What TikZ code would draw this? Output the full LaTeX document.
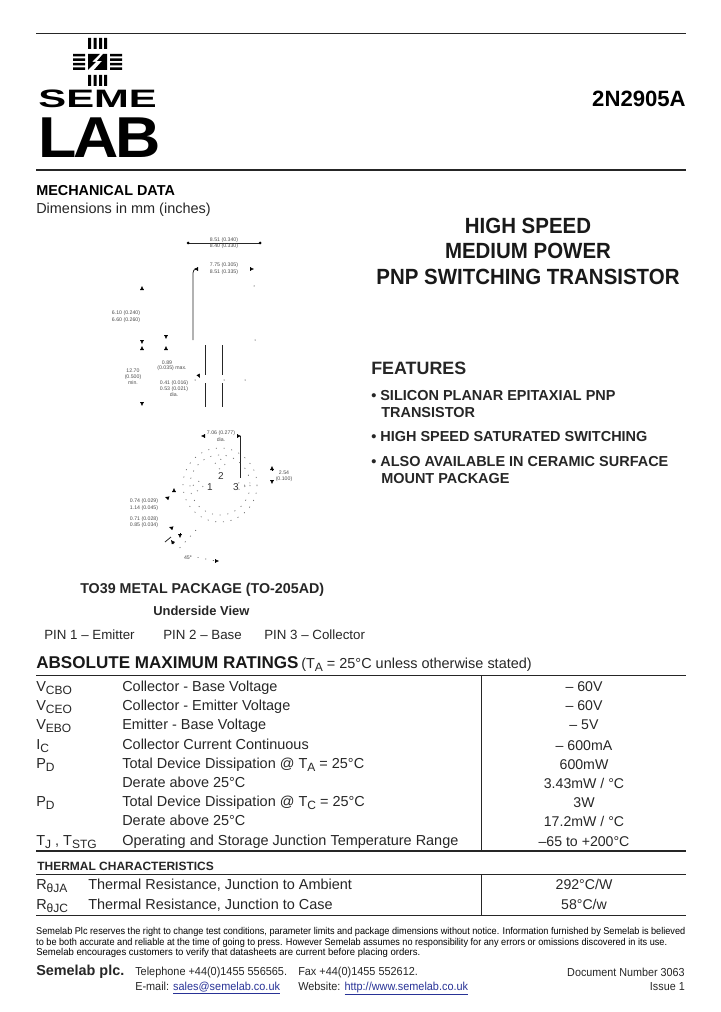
\documentclass[tikz,border=0pt]{standalone}
\usepackage{fontspec}
\setmainfont{Liberation Sans}
\usetikzlibrary{arrows.meta}
\newcommand{\fsz}[1]{\fontsize{#1}{#1}\selectfont}
\newcommand{\subs}[1]{\raisebox{-0.45ex}{\fontsize{9}{9}\selectfont #1}}
\tikzstyle{txt} = [anchor=base west, inner sep=0pt, font=\fsz{10.85}, text=black!85]
\tikzstyle{txtr} = [anchor=base east, inner sep=0pt, font=\fsz{10.85}, text=black!85]
\tikzstyle{val} = [anchor=base, inner sep=0pt, font=\fsz{10.6}, text=black!85]
\tikzstyle{headb} = [anchor=base west, inner sep=0pt, font=\fsz{10.8}\bfseries]
\tikzstyle{title} = [anchor=base, inner sep=0pt, font=\fsz{16.5}\bfseries, text=black!90, xscale=0.93]
\tikzstyle{feat} = [anchor=base west, inner sep=0pt, font=\fsz{10.85}\bfseries, text=black!85]
\tikzstyle{small} = [anchor=base west, inner sep=0pt, font=\fsz{7.4}, text=black]
\tikzstyle{foot} = [anchor=base west, inner sep=0pt, font=\fsz{8.7}, text=black!85, xscale=0.94]
\tikzstyle{footr} = [anchor=base east, inner sep=0pt, font=\fsz{8.7}, text=black!85, xscale=0.93]
\tikzstyle{tiny} = [anchor=base, inner sep=0pt, font=\fsz{3.9}, text=black!70]
\tikzstyle{rule} = [line width=0.5pt, black!85]
\tikzstyle{hrule} = [line width=1.1pt, black!85]
\tikzstyle{dim} = [line width=0.6pt, black!85]
\tikzstyle{tip} = [-{Latex[length=3pt,width=3pt]}, line width=0.3pt]
\tikzstyle{dots} = [line width=0.5pt, black!60, dash pattern=on 0.8pt off 5pt]
\definecolor{linkblue}{RGB}{40,50,150}
\begin{document}
\begin{tikzpicture}[x=0.75pt, y=-0.75pt]
  \useasboundingbox (0,0) rectangle (720,1012);

  % rules
  \draw[rule] (36,33) -- (686,33);
  \draw[hrule] (36,170) -- (686,170);
  \draw[rule] (36,675) -- (686,675);
  \draw[hrule] (36,851) -- (686,851);
  \draw[rule] (36,874) -- (686,874);
  \draw[rule] (36,915) -- (686,915);
  \draw[rule] (481,675) -- (481,851);
  \draw[rule] (481,874) -- (481,915);

  % logo
  \fill (88,38) rectangle (91,49) (93.5,38) rectangle (96.5,49) (99,38) rectangle (102,49) (104,38) rectangle (107,49);
  \fill (88,75) rectangle (91,86) (93.5,75) rectangle (96.5,86) (99,75) rectangle (102,86) (104,75) rectangle (107,86);
  \fill (73,54) rectangle (85,56.5) (73,58.5) rectangle (85,61) (73,63) rectangle (85,65.5) (73,67.5) rectangle (85,70);
  \fill (110,54) rectangle (122,56.5) (110,58.5) rectangle (122,61) (110,63) rectangle (122,65.5) (110,67.5) rectangle (122,70);
  \fill (88,54) -- (100,54) -- (92,62) -- (96,62) -- (88,70) -- cycle;
  \fill (107,54) -- (103,54) -- (97,61) -- (102,61) -- (94,70) -- (107,70) -- cycle;
  \node[anchor=base west, inner sep=0pt, font=\fsz{18}\bfseries, xscale=1.74, yscale=1.05] (seme) at (38,108) {SEME};
  \node[anchor=base west, inner sep=0pt, font=\fsz{42}\bfseries, xscale=1.12, yscale=1.03] (lab) at (38,158) {L\kern-2pt A\kern-2pt B};

  % header
  \node[anchor=base east, inner sep=0pt, font=\fsz{16.6}\bfseries] (part) at (686,107) {2N2905A};
  \node[headb] (mech) at (36,196) {MECHANICAL DATA};
  \node[txt] (dimnote) at (36,214) {Dimensions in mm (inches)};
  \node[title] (t1) at (528,234) {HIGH SPEED};
  \node[title] (t2) at (528,259) {MEDIUM POWER};
  \node[title] (t3) at (528,285) {PNP SWITCHING TRANSISTOR};

  % features
  \node[anchor=base west, inner sep=0pt, font=\fsz{13.4}\bfseries, text=black!85] (feathead) at (371,374) {FEATURES};
  \node[feat] (f1) at (371,400) {• SILICON PLANAR EPITAXIAL PNP};
  \node[feat] (f1b) at (381,417) {TRANSISTOR};
  \node[feat] (f2) at (371,441) {• HIGH SPEED SATURATED SWITCHING};
  \node[feat] (f3) at (371,466) {• ALSO AVAILABLE IN CERAMIC SURFACE};
  \node[feat] (f3b) at (381,483) {MOUNT PACKAGE};

  % side view
  \draw[dim] (188,243) -- (260,243);
  \fill (188,243) circle (1.5) (260,243) circle (1.5);
  \draw[dim] (193,340) -- (193,273) to[out=90,in=180] (196,269);
  \draw[dim] (205.5,345) -- (205.5,375) (205.5,383) -- (205.5,407);
  \draw[dim] (222,345) -- (222,375) (222,383) -- (222,407);
  \draw[tip] (197,269) -- (194,269);
  \draw[tip] (251,269) -- (254,269);
  \draw[tip] (142,289) -- (142,286);
  \draw[tip] (166,336) -- (166,339);
  \draw[tip] (142,341) -- (142,344);
  \draw[tip] (142,349) -- (142,346);
  \draw[tip] (166,349) -- (166,346);
  \draw[tip] (142,403) -- (142,406);
  \draw[tip] (198,374) -- (200,378);
  \fill (254,286) circle (0.5) (255,340) circle (0.5) (224,380) circle (0.5) (245,380) circle (0.5) (195,380) circle (0.5);
  \node[tiny] (d1) at (224,242) {8.51 (0.340)};
  \node[tiny] (d2) at (224,248) {8.40 (0.330)};
  \node[tiny] (d3) at (224,267) {7.75 (0.305)};
  \node[tiny] (d4) at (224,274) {8.51 (0.335)};
  \node[tiny] (d5) at (126,314) {6.10 (0.240)};
  \node[tiny] (d6) at (126,321) {6.60 (0.260)};
  \node[tiny] (d7) at (133,372) {12.70};
  \node[tiny] (d8) at (133,378) {(0.500)};
  \node[tiny] (d9) at (133,384) {min.};
  \node[tiny] (d10) at (167,364) {0.89};
  \node[tiny] (d11) at (172,369) {(0.035) max.};
  \node[tiny] (d12) at (174,384) {0.41 (0.016)};
  \node[tiny] (d13) at (174,390) {0.53 (0.021)};
  \node[tiny] (d14) at (174,396) {dia.};

  % underside view
  \draw[dim] (240.5,436) -- (240.5,478);
  \draw[tip] (204,436) -- (201,436);
  \draw[tip] (239,436) -- (241,436);
  \draw[tip] (174,491) -- (174,488);
  \draw[tip] (168,498) -- (165,497);
  \draw[tip] (172,528) -- (169,527);
  \draw[tip] (180,533) -- (180,538);
  \draw[tip] (174,544) -- (171,540);
  \draw[dim] (165,542) -- (171,537);
  \draw[tip] (216,561) -- (219,561);
  \draw[tip] (272,470) -- (272,466);
  \draw[tip] (272,480) -- (272,484);
  \draw[dots] (220,485) circle (37);
  \draw[dots] (220,485) circle (30);
  \draw[dots] (198,486) circle (5);
  \draw[dots] (220,464) circle (5);
  \draw[dots] (241,486) circle (4);
  \draw[dots] (196,530) -- (176,552);
  \draw[dots] (190,556) -- (216,561);
  \node[tiny] (u1) at (221,434) {7.06 (0.277)};
  \node[tiny] (u2) at (221,441) {dia.};
  \node[tiny] (u3) at (144,502) {0.74 (0.029)};
  \node[tiny] (u4) at (144,509) {1.14 (0.045)};
  \node[tiny] (u5) at (144,520) {0.71 (0.028)};
  \node[tiny] (u6) at (144,526) {0.85 (0.034)};
  \node[tiny] (u7) at (284,474) {2.54};
  \node[tiny] (u8) at (284,480) {(0.100)};
  \node[tiny] (u9) at (188,559) {45°};
  \node[anchor=base, inner sep=0pt, font=\fsz{7.5}, text=black!80] (pin1) at (210,490) {1};
  \node[anchor=base, inner sep=0pt, font=\fsz{7.5}, text=black!80] (pin2) at (221,479) {2};
  \node[anchor=base, inner sep=0pt, font=\fsz{7.5}, text=black!80] (pin3) at (236,490) {3};

  % package
  \node[anchor=base west, inner sep=0pt, font=\fsz{10.7}\bfseries, text=black!85] (pkg) at (80,593) {TO39 METAL PACKAGE (TO-205AD)};
  \node[anchor=base west, inner sep=0pt, font=\fsz{9.7}\bfseries, text=black!85] (under) at (153,615) {Underside View};
  \node[txt, font=\fsz{10}] (p1) at (44,639) {PIN 1 – Emitter};
  \node[txt, font=\fsz{10}] (p2) at (163,639) {PIN 2 – Base};
  \node[txt, font=\fsz{10}] (p3) at (264,639) {PIN 3 – Collector};

  % ratings
  \node[anchor=base west, inner sep=0pt, font=\fsz{12.8}\bfseries, text=black!90] (abs) at (36,668) {ABSOLUTE MAXIMUM RATINGS};
  \node[txt] (cond) at (301,668) {(T\subs{A} = 25°C unless otherwise stated)};

  \node[txt] (s1) at (36,691) {V\subs{CBO}};
  \node[txt] (s2) at (36,710) {V\subs{CEO}};
  \node[txt] (s3) at (36,729) {V\subs{EBO}};
  \node[txt] (s4) at (36,749) {I\subs{C}};
  \node[txt] (s5) at (36,768) {P\subs{D}};
  \node[txt] (s7) at (36,806) {P\subs{D}};
  \node[txt] (s9) at (36,845) {T\subs{J} , T\subs{STG}};

  \node[txt] (n1) at (122,691) {Collector - Base Voltage};
  \node[txt] (n2) at (122,710) {Collector - Emitter Voltage};
  \node[txt] (n3) at (122,729) {Emitter - Base Voltage};
  \node[txt] (n4) at (122,749) {Collector Current Continuous};
  \node[txt] (n5) at (122,768) {Total Device Dissipation @ T\subs{A} = 25°C};
  \node[txt] (n6) at (122,787) {Derate above 25°C};
  \node[txt] (n7) at (122,806) {Total Device Dissipation @ T\subs{C} = 25°C};
  \node[txt] (n8) at (122,825) {Derate above 25°C};
  \node[txt] (n9) at (122,845) {Operating and Storage Junction Temperature Range};

  \node[val] (v1) at (584,691) {– 60V};
  \node[val] (v2) at (584,710) {– 60V};
  \node[val] (v3) at (584,729) {– 5V};
  \node[val] (v4) at (584,750) {– 600mA};
  \node[val] (v5) at (584,769) {600mW};
  \node[val] (v6) at (584,788) {3.43mW / °C};
  \node[val] (v7) at (584,807) {3W};
  \node[val] (v8) at (584,826) {17.2mW / °C};
  \node[val] (v9) at (584,846) {–65 to +200°C};

  % thermal
  \node[anchor=base west, inner sep=0pt, font=\fsz{9}\bfseries, text=black!85] (therm) at (37,870) {THERMAL CHARACTERISTICS};
  \node[txt] (r1) at (36,889) {R\subs{θJA}};
  \node[txt] (r2) at (36,909) {R\subs{θJC}};
  \node[txt] (m1) at (88,889) {Thermal Resistance, Junction to Ambient};
  \node[txt] (m2) at (88,909) {Thermal Resistance, Junction to Case};
  \node[val] (w1) at (584,889) {292°C/W};
  \node[val] (w2) at (584,909) {58°C/w};

  % footer
  \node[small, xscale=0.927] (l1) at (36,934) {Semelab Plc reserves the right to change test conditions, parameter limits and package dimensions without notice. Information furnished by Semelab is believed};
  \node[small, xscale=0.928] (l2) at (36,945) {to be both accurate and reliable at the time of going to press. However Semelab assumes no responsibility for any errors or omissions discovered in its use.};
  \node[small, xscale=0.966] (l3) at (36,955) {Semelab encourages customers to verify that datasheets are current before placing orders.};
  \node[anchor=base west, inner sep=0pt, font=\fsz{10.8}\bfseries, text=black!85] (semelab) at (36,975) {Semelab plc.};
  \node[foot] (tel) at (135,975) {Telephone +44(0)1455 556565.};
  \node[foot] (fax) at (298,975) {Fax +44(0)1455 552612.};
  \node[foot] (mail) at (135,990) {E-mail: \textcolor{linkblue}{\underline{sales@semelab.co.uk}}};
  \node[foot] (web) at (298,990) {Website: \textcolor{linkblue}{\underline{http://www.semelab.co.uk}}};
  \node[footr] (docnum) at (685,976) {Document Number 3063};
  \node[footr] (issue) at (685,990) {Issue 1};
\end{tikzpicture}
\end{document}
